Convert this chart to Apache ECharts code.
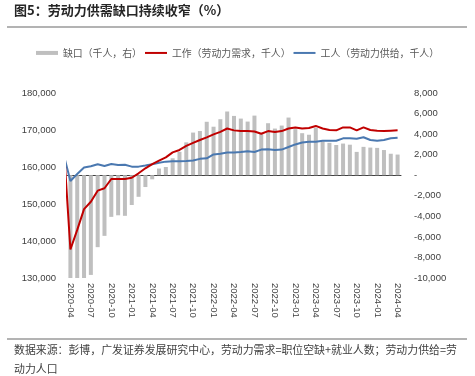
<!DOCTYPE html>
<html><head><meta charset="utf-8">
<script src="https://cdn.jsdelivr.net/npm/echarts@6/dist/echarts.min.js"></script>
<style>html,body{margin:0;padding:0;background:#fff}#c{width:475px;height:376px}</style>
</head><body><div id="c"></div>
<script>
// Bar categories (monthly)
const months = ['2020-04','2020-05','2020-06','2020-07','2020-08','2020-09','2020-10','2020-11','2020-12',
  '2021-01','2021-02','2021-03','2021-04','2021-05','2021-06','2021-07','2021-08','2021-09','2021-10','2021-11','2021-12',
  '2022-01','2022-02','2022-03','2022-04','2022-05','2022-06','2022-07','2022-08','2022-09','2022-10','2022-11','2022-12',
  '2023-01','2023-02','2023-03','2023-04','2023-05','2023-06','2023-07','2023-08','2023-09','2023-10','2023-11','2023-12',
  '2024-01','2024-02','2024-03','2024-04'];
// Gap (thousand persons, right axis)
const gap = [-18500,-15100,-11300,-9700,-7000,-5900,-4050,-3900,-3950,
  -2900,-2100,-1150,-400,650,800,1650,2280,3200,4150,4300,5200,
  4720,5450,6200,5770,5510,5220,5800,4000,5060,4540,4830,5610,
  4480,4090,3940,4600,3290,3150,2940,3080,2970,2270,2760,2690,
  2660,2450,2090,2010];
// Line months start one month earlier (2020-03), clipped at the axis edge
const lineMonths = ['2020-03'].concat(months);
// Labour demand (jobs, thousand)
const demand = [166300,
  137700,143000,148600,150600,153600,154250,156750,156750,156750,
  157100,158300,159650,160800,161700,162600,163950,164600,165700,166500,167300,168000,
  168800,169500,170400,169900,169700,169700,169600,169000,169700,169450,169700,170400,
  170700,170400,170550,171100,170400,170000,169900,170700,170700,169900,170700,170000,
  169800,169700,169800,169900];
// Labour supply (workers, thousand)
const supply = [163400,
  156200,158100,159850,160200,160750,160250,160800,160550,160600,
  160100,160100,160400,160750,161150,161450,161550,161550,161600,161750,162200,162350,
  163400,163600,163900,163900,164050,164250,164050,164700,164800,164600,164700,165400,
  166100,166600,166850,166850,167100,167100,167100,167750,167750,167650,168050,167300,
  167100,167300,167750,167900];

const leftTicks = {min:130000, max:180000, step:10000};
const rightTicks = {min:-10000, max:8000, step:2000};

const names = ['缺口（千人，右）','工作（劳动力需求，千人）','工人（劳动力供给，千人）'];
const numFont = 'Liberation Sans, Arial, sans-serif';
const cjkFont = '"Noto Sans CJK SC", sans-serif';
const fmt = v => v === 0 ? '-' : v.toLocaleString('en-US');
const lineIcon = 'path://M0,0L22,0L22,2L0,2Z';

const chart = echarts.init(document.getElementById('c'), null, {renderer:'canvas'});
chart.setOption({
  animation:false,
  backgroundColor:'#fff',
  grid:{left:67, right:74, top:93, bottom:98},
  legend:{
    data:[{name:names[0], icon:'rect'}, {name:names[1], icon:lineIcon}, {name:names[2], icon:lineIcon}],
    top:43, left:'center', itemWidth:22, itemHeight:4, itemGap:3, symbolKeepAspect:true,
    textStyle:{fontFamily:cjkFont, fontSize:9.9, color:'#595959'}
  },
  xAxis:[
    {type:'category', data:months, boundaryGap:true,
     axisLine:{lineStyle:{color:'#404040', width:1}},
     axisTick:{interval:2, alignWithLabel:true, length:3, lineStyle:{color:'#404040'}},
     axisLabel:{interval:2, rotate:-90, fontSize:9.5, fontFamily:numFont, color:'#404040', margin:5},
     splitLine:{show:false}},
    {type:'value', min:-0.5, max:months.length-0.5, show:false}
  ],
  yAxis:[
    {type:'value', min:leftTicks.min, max:leftTicks.max, interval:leftTicks.step,
     axisLine:{show:false}, axisTick:{show:false}, splitLine:{show:false},
     axisLabel:{formatter:fmt, fontSize:9.5, fontFamily:numFont, color:'#404040', margin:11}},
    {type:'value', min:rightTicks.min, max:rightTicks.max, interval:rightTicks.step,
     axisLine:{show:false}, axisTick:{show:false}, splitLine:{show:false},
     axisLabel:{formatter:fmt, fontSize:9.5, fontFamily:numFont, color:'#404040', margin:13}}
  ],
  series:[
    {name:names[0], type:'bar', xAxisIndex:0, yAxisIndex:1, data:gap, barWidth:4, clip:true,
     itemStyle:{color:'#BFBFBF'}, z:1},
    {name:names[1], type:'line', xAxisIndex:1, yAxisIndex:0, symbol:'none', showSymbol:false, clip:true,
     data:demand.map((v,i)=>[i-1, v]), lineStyle:{color:'#C00000', width:2}, itemStyle:{color:'#C00000'}, z:3},
    {name:names[2], type:'line', xAxisIndex:1, yAxisIndex:0, symbol:'none', showSymbol:false, clip:true,
     data:supply.map((v,i)=>[i-1, v]), lineStyle:{color:'#4A78B0', width:2}, itemStyle:{color:'#4A78B0'}, z:2}
  ],
  graphic:[
    {type:'text', left:14, top:4, style:{text:'图5：劳动力供需缺口持续收窄（%）', font:'bold 13px "Noto Sans CJK SC", sans-serif', fill:'#262626'}},
    {type:'line', shape:{x1:7, y1:27, x2:467, y2:27}, style:{stroke:'#9a9a9a', lineWidth:1.5}},
    {type:'line', shape:{x1:7, y1:339, x2:467, y2:339}, style:{stroke:'#9a9a9a', lineWidth:1.5}},
    {type:'text', left:14, top:344, style:{text:'数据来源：彭博，广发证券发展研究中心，劳动力需求=职位空缺+就业人数；劳动力供给=劳', font:'10.9px "Noto Sans CJK SC", sans-serif', fill:'#404040'}},
    {type:'text', left:14, top:363, style:{text:'动力人口', font:'10.9px "Noto Sans CJK SC", sans-serif', fill:'#404040'}}
  ]
});
</script></body></html>
